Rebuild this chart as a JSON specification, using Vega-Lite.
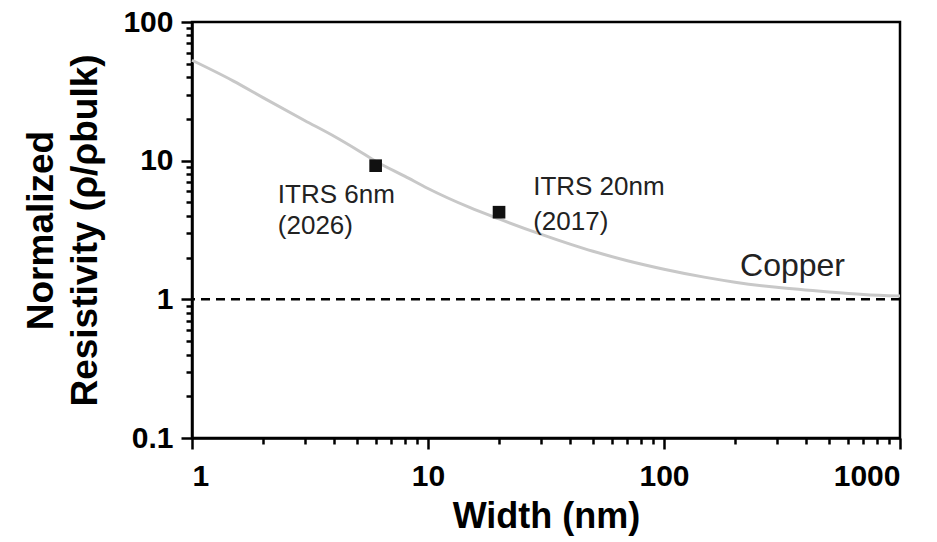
{
  "$schema": "https://vega.github.io/schema/vega-lite/v6.json",
  "width": 708,
  "height": 416,
  "autosize": "none",
  "padding": {"left": 192, "top": 22, "right": 37, "bottom": 104},
  "background": "white",
  "config": {
    "view": {"stroke": "black", "strokeWidth": 2.5},
    "font": "Liberation Sans",
    "axis": {
      "grid": false,
      "domainColor": "black",
      "domainWidth": 2.5,
      "tickColor": "black",
      "tickWidth": 2.5,
      "labelColor": "black",
      "titleColor": "black",
      "labelFont": "Liberation Sans",
      "titleFont": "Liberation Sans"
    }
  },
  "datasets": {
    "curve": [
      {"w": 1, "rho": 53},
      {"w": 1.5, "rho": 37.5},
      {"w": 2, "rho": 28.5},
      {"w": 3, "rho": 19.5},
      {"w": 4, "rho": 15},
      {"w": 5, "rho": 12},
      {"w": 6, "rho": 9.9},
      {"w": 8, "rho": 7.7},
      {"w": 10, "rho": 6.3},
      {"w": 15, "rho": 4.6},
      {"w": 20, "rho": 3.8},
      {"w": 30, "rho": 2.95},
      {"w": 40, "rho": 2.5},
      {"w": 50, "rho": 2.22},
      {"w": 70, "rho": 1.9},
      {"w": 100, "rho": 1.65},
      {"w": 150, "rho": 1.44},
      {"w": 200, "rho": 1.33},
      {"w": 300, "rho": 1.22},
      {"w": 500, "rho": 1.13},
      {"w": 700, "rho": 1.085},
      {"w": 1000, "rho": 1.055}
    ],
    "itrs": [
      {"w": 6, "rho": 9.2},
      {"w": 20, "rho": 4.25}
    ],
    "bulk": [
      {"rho": 1}
    ],
    "labels": [
      {"label": "ITRS 6nm", "w": 2.31, "rho": 4.93},
      {"label": "(2026)", "w": 2.31, "rho": 2.95},
      {"label": "ITRS 20nm", "w": 27.9, "rho": 5.63},
      {"label": "(2017)", "w": 27.9, "rho": 3.15}
    ],
    "copper": [
      {"label": "Copper", "w": 210, "rho": 1.47}
    ]
  },
  "layer": [
    {
      "data": {"name": "bulk"},
      "mark": {"type": "rule", "color": "black", "strokeWidth": 2.5, "strokeDash": [9, 6]},
      "encoding": {
        "y": {"field": "rho", "type": "quantitative", "scale": {"type": "log", "domain": [0.1, 100], "nice": false}, "axis": null}
      }
    },
    {
      "data": {"name": "curve"},
      "mark": {"type": "line", "color": "#c8c8c8", "strokeWidth": 3, "interpolate": "monotone"},
      "encoding": {
        "x": {
          "field": "w", "type": "quantitative",
          "scale": {"type": "log", "domain": [1, 1000], "nice": false},
          "axis": {
            "orient": "bottom",
            "values": [1, 10, 100, 1000],
            "format": "~g",
            "tickSize": 11,
            "labelPadding": 12,
            "labelFontSize": 30,
            "labelFontWeight": "bold",
            "title": "Width (nm)",
            "titleFontSize": 36,
            "titleFontWeight": "bold",
            "titlePadding": 8
          }
        },
        "y": {
          "field": "rho", "type": "quantitative",
          "scale": {"type": "log", "domain": [0.1, 100], "nice": false},
          "axis": {
            "orient": "left",
            "values": [0.1, 1, 10, 100],
            "format": "~g",
            "tickSize": 11,
            "labelPadding": 8,
            "labelFontSize": 30,
            "labelFontWeight": "bold",
            "title": ["Normalized", "Resistivity (ρ/ρbulk)"],
            "titleFontSize": 37,
            "titleFontWeight": "bold",
            "titleLineHeight": 44,
            "titlePadding": 18
          }
        }
      }
    },
    {
      "data": {"name": "itrs"},
      "mark": {"type": "point", "shape": "square", "filled": true, "size": 160, "color": "#111111", "opacity": 1},
      "encoding": {
        "x": {
          "field": "w", "type": "quantitative",
          "scale": {"type": "log", "domain": [1, 1000], "nice": false},
          "axis": {
            "orient": "bottom",
            "values": [2, 3, 4, 5, 6, 7, 8, 9, 20, 30, 40, 50, 60, 70, 80, 90, 200, 300, 400, 500, 600, 700, 800, 900],
            "labels": false,
            "domain": false,
            "tickSize": 6,
            "title": null
          }
        },
        "y": {
          "field": "rho", "type": "quantitative",
          "scale": {"type": "log", "domain": [0.1, 100], "nice": false},
          "axis": {
            "orient": "left",
            "values": [0.2, 0.3, 0.4, 0.5, 0.6, 0.7, 0.8, 0.9, 2, 3, 4, 5, 6, 7, 8, 9, 20, 30, 40, 50, 60, 70, 80, 90],
            "labels": false,
            "domain": false,
            "tickSize": 6,
            "title": null
          }
        }
      }
    },
    {
      "data": {"name": "labels"},
      "mark": {"type": "text", "align": "left", "baseline": "alphabetic", "fontSize": 26, "color": "#222222", "font": "Liberation Sans"},
      "encoding": {
        "x": {"field": "w", "type": "quantitative", "scale": {"type": "log", "domain": [1, 1000], "nice": false}, "axis": null},
        "y": {"field": "rho", "type": "quantitative", "scale": {"type": "log", "domain": [0.1, 100], "nice": false}, "axis": null},
        "text": {"field": "label"}
      }
    },
    {
      "data": {"name": "copper"},
      "mark": {"type": "text", "align": "left", "baseline": "alphabetic", "fontSize": 32, "color": "#222222", "font": "Liberation Sans"},
      "encoding": {
        "x": {"field": "w", "type": "quantitative", "scale": {"type": "log", "domain": [1, 1000], "nice": false}, "axis": null},
        "y": {"field": "rho", "type": "quantitative", "scale": {"type": "log", "domain": [0.1, 100], "nice": false}, "axis": null},
        "text": {"field": "label"}
      }
    }
  ],
  "resolve": {"axis": {"x": "independent", "y": "independent"}}
}
